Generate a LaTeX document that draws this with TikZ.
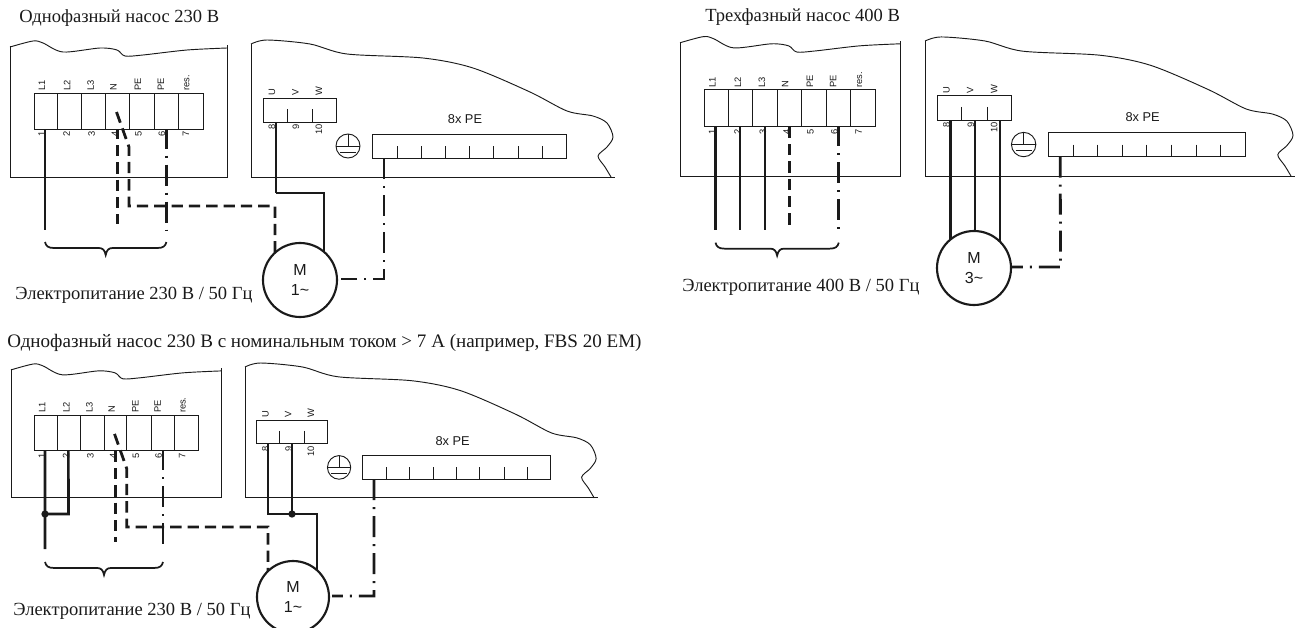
\documentclass[tikz,border=0pt]{standalone}
\usepackage{fontspec}
\setmainfont{Liberation Serif}
\newfontfamily\labfont{Liberation Sans}
\usetikzlibrary{backgrounds,calc}
\definecolor{ink}{HTML}{1A1A1A}
\tikzset{
  x=0.75pt,y=-0.75pt,
  thinline/.style={draw=ink,line width=0.7pt},
  wire/.style={draw=ink,line width=2pt},
  wirelight/.style={draw=ink,line width=1.6pt},
  dashwire/.style={draw=ink,line width=2.1pt,dash pattern=on 8.5pt off 4.5pt},
  pewire/.style={draw=ink,line width=2.1pt,dash pattern=on 15.75pt off 5.25pt on 1.5pt off 5.25pt},
  bracket/.style={draw=ink,line width=1.3pt},
  toplabel/.style={font=\labfont\fontsize{7}{7}\selectfont,text=ink,rotate=90,anchor=west,inner sep=0pt},
  botlabel/.style={font=\labfont\fontsize{7}{7}\selectfont,text=ink,rotate=90,anchor=east,inner sep=0pt},
  caption/.style={font=\fontsize{13.9}{15}\selectfont,text=ink,anchor=base west,inner sep=0pt},
  pelabel/.style={font=\labfont\fontsize{9.6}{11}\selectfont,text=ink,inner sep=0pt},
  motor/.style={circle,draw=ink,fill=white,line width=1.6pt,inner sep=0pt,align=center,text=ink,
    font=\labfont\fontsize{12}{15}\selectfont},
  dot/.style={circle,fill=ink,inner sep=0pt,minimum size=5.5pt}
}
% left enclosure with the 7-way terminal strip, in the first panel's pixel coordinates
\newcommand{\LeftBox}[1]{
  \draw[thinline] plot[smooth,tension=.5] coordinates{(10,47)(33,41)(43,43)(63,52)(100,48)(117,50)(125,56)(143,55)(187,50)(227,48)};
  \draw[thinline] (10,46) -- (10,177) -- (227,177) -- (227,45);
  \draw[thinline] (34,93) rectangle (203,129);
  \foreach \xx in {57.3,81.3,105.7,129.3,154,178.3}{\draw[thinline] (\xx,93) -- (\xx,129);}
  \node[toplabel] (#1-l1) at (42,91) {L1};
  \node[toplabel] (#1-l2) at (67,91) {L2};
  \node[toplabel] (#1-l3) at (90.7,91) {L3};
  \node[toplabel] (#1-ln) at (113.5,91) {N};
  \node[toplabel] (#1-lp) at (138,91) {PE};
  \node[toplabel] (#1-lq) at (161,91) {PE};
  \node[toplabel] (#1-lr) at (187,91) {res.};
  \node[botlabel] (#1-n1) at (41.7,131) {1};
  \node[botlabel] (#1-n2) at (66.7,131) {2};
  \node[botlabel] (#1-n3) at (91.7,131) {3};
  \node[botlabel] (#1-n4) at (115,131) {4};
  \node[botlabel] (#1-n5) at (138.5,131) {5};
  \node[botlabel] (#1-n6) at (162,131) {6};
  \node[botlabel] (#1-n7) at (186,131) {7};
  \coordinate (#1-t1) at (45,129);
  \coordinate (#1-t2) at (69,129);
  \coordinate (#1-t3) at (93.6,129);
  \coordinate (#1-t4) at (117.5,129);
  \coordinate (#1-t6) at (166.4,129);
  \coordinate (#1-e1) at (45,230);
  \coordinate (#1-e2) at (69,230);
  \coordinate (#1-e3) at (93.6,230);
  \coordinate (#1-e4) at (117.5,230);
  \coordinate (#1-e6) at (166.4,230);
  \coordinate (#1-x) at (116.5,112);
  \coordinate (#1-y) at (129,147);
  \coordinate (#1-h) at (129,206);
  \coordinate (#1-b0) at (45,242);
  \coordinate (#1-b1) at (166.4,242);
}
% right enclosure with U V W block and the 8x PE strip
\newcommand{\RightBox}[1]{
  \draw[thinline] plot[smooth,tension=.5] coordinates{(251,44)(267,40)(310,44)(347,54)(423,58)(473,68)(530,92)(567,111)(593,116)(607,123)(613,137)(607,147)(598,156)(605,167)(611,177)};
  \draw[thinline] (251,44) -- (251,177) -- (615,177);
  \draw[thinline] (263,98) rectangle (336,122);
  \draw[thinline] (287,109) -- (287,122);
  \draw[thinline] (312,109) -- (312,122);
  \node[toplabel] (#1-lu) at (272,96) {U};
  \node[toplabel] (#1-lv) at (295.5,96) {V};
  \node[toplabel] (#1-lw) at (319,96) {W};
  \node[botlabel] (#1-n8) at (272,124) {8};
  \node[botlabel] (#1-n9) at (296,124) {9};
  \node[botlabel] (#1-n10) at (319,124) {10};
  \draw[thinline] (348,146) circle[radius=9pt];
  \draw[thinline] (336,146) -- (360,146) (348,134) -- (348,146) (340,152) -- (356,152);
  \node[pelabel] (#1-pe) at (465,119) {8x PE};
  \draw[thinline] (372,134) rectangle (566,158);
  \foreach \xx in {397,421,445,469,493,518,542}{\draw[thinline] (\xx,146) -- (\xx,158);}
  \coordinate (#1-u) at (276,122);
  \coordinate (#1-v) at (300,122);
  \coordinate (#1-w) at (325,122);
  \coordinate (#1-p) at (384,158);
}
\newcommand{\BraceShape}[2]{
  \draw[bracket] (#1)
    .. controls ($(#1)+(1,4)$) and ($(#1)+(3,6)$) .. ($(#1)+(9,6)$)
    -- ($(#1)!0.5!(#2)+(-7,6)$)
    .. controls ($(#1)!0.5!(#2)+(-3,6)$) and ($(#1)!0.5!(#2)+(-1,8)$) .. ($(#1)!0.5!(#2)+(0,13)$)
    .. controls ($(#1)!0.5!(#2)+(1,8)$) and ($(#1)!0.5!(#2)+(3,6)$) .. ($(#1)!0.5!(#2)+(7,6)$)
    -- ($(#2)+(-9,6)$)
    .. controls ($(#2)+(-3,6)$) and ($(#2)+(-1,4)$) .. (#2);
}
\begin{document}
\begin{tikzpicture}
\useasboundingbox (0,0) rectangle (1299,628);
% ---- panel 1
\begin{scope}\LeftBox{a}\end{scope}
\begin{scope}\RightBox{b}\end{scope}
\node[caption] (t1) at (19,22) {Однофазный насос 230 В};
\node[caption] (c1) at (15,299) {Электропитание 230 В / 50 Гц};
\node[motor,minimum size=55.5pt] (m1) at (300,280) {M\\1\textasciitilde};
\coordinate (a-c) at (275,206);
\coordinate (b-k) at (384,279);
\coordinate (m1-p) at (341,279);
\coordinate (m1-n) at (324,193);
\begin{scope}[on background layer]
  \draw[wire] (a-t1) -- (a-e1);
  \draw[dashwire,dash phase=1pt] (a-t4) -- (a-e4 |- 0,224);
  \draw[dashwire] (a-x) -- (a-y) -- (a-h) -- (a-c) -- (a-c |- m1.center);
  \draw[pewire,dash phase=1pt] (a-t6) -- (a-e6);
  \draw[wire] (b-u) -- (b-u |- m1-n);
  \draw[wirelight] (b-u |- m1-n) -- (m1-n) -- (m1-n |- m1.center);
  \draw[pewire] (b-p) -- (b-k) -- (m1-p);
\end{scope}
\BraceShape{a-b0}{a-b1}
% ---- panel 2
\begin{scope}[shift={(669.85,-5.4)},xscale=1.015,yscale=1.025]\LeftBox{c}\end{scope}
\begin{scope}[shift={(669.9,-3.65)},xscale=1.0165,yscale=1.015]\RightBox{d}\end{scope}
\node[caption] (t2) at (705,21.7) {Трехфазный насос 400 В};
\node[caption] (c2) at (682,291.7) {Электропитание 400 В / 50 Гц};
\node[motor,minimum size=55.5pt] (m2) at (974,268) {M\\3\textasciitilde};
\coordinate (d-k) at (1060.5,267);
\coordinate (m2-p) at (1012,267);
\begin{scope}[on background layer]
  \draw[wirelight] (c-t1) -- (c-e1);
  \draw[wirelight] (c-t2) -- (c-e2);
  \draw[wirelight] (c-t3) -- (c-e3);
  \draw[dashwire] (c-t4) -- (c-e4);
  \draw[pewire,dash phase=1pt] (c-t6) -- (c-e6);
  \draw[wirelight] (d-u) -- (d-u |- m2.center);
  \draw[wirelight] (d-v) -- (d-v |- m2.center);
  \draw[wirelight] (d-w) -- (d-w |- m2.center);
  \draw[pewire] (d-p) -- (d-k) -- (m2-p);
\end{scope}
\BraceShape{c-b0}{c-b1}
% ---- panel 3
\begin{scope}[shift={(1.28,323.6)},xscale=.972,yscale=.985]\LeftBox{e}\end{scope}
\begin{scope}[shift={(1.53,323.6)},xscale=.97,yscale=.985]\RightBox{f}\end{scope}
\node[caption,font=\fontsize{14.3}{15}\selectfont] (t3) at (7,347) {Однофазный насос 230 В с номинальным током > 7 А (например, FBS 20 EM)};
\node[caption] (c3) at (13,615) {Электропитание 230 В / 50 Гц};
\begin{scope}
  \clip (0,0) rectangle (1299,627);
  \node[motor,minimum size=54pt] (m3) at (293,597) {M\\1\textasciitilde};
\end{scope}
\coordinate (e-c) at (268,527);
\coordinate (e-j) at (45,514);
\coordinate (e-k) at (68.5,514);
\coordinate (f-j) at (292,514);
\coordinate (f-l) at (268,514);
\coordinate (f-r) at (317,514);
\coordinate (f-k) at (374,596);
\coordinate (m3-p) at (332,596);
\begin{scope}[on background layer]
  \draw[wire] (e-t1) -- (e-j) -- (e-e1 |- 0,549);
  \draw[wire] (e-t2) -- (e-k) -- (e-j);
  \draw[dashwire] (e-t4) -- (e-e4 |- 0,542);
  \draw[dashwire] (e-x) -- (e-y) -- (e-h |- e-c) -- (e-c) -- (e-c |- m3.center);
  \draw[pewire,dash phase=1pt] (e-t6) -- (e-e6 |- 0,549);
  \draw[wire] (f-l |- f-u) -- (f-l) -- (f-r) -- (f-r |- m3.center);
  \draw[wire] (f-j |- f-v) -- (f-j);
  \draw[pewire] (f-p) -- (f-k) -- (m3-p);
\end{scope}
\node[dot] (d1) at (e-j) {};
\node[dot] (d2) at (f-j) {};
\BraceShape{e-b0}{e-b1}
\end{tikzpicture}
\end{document}
